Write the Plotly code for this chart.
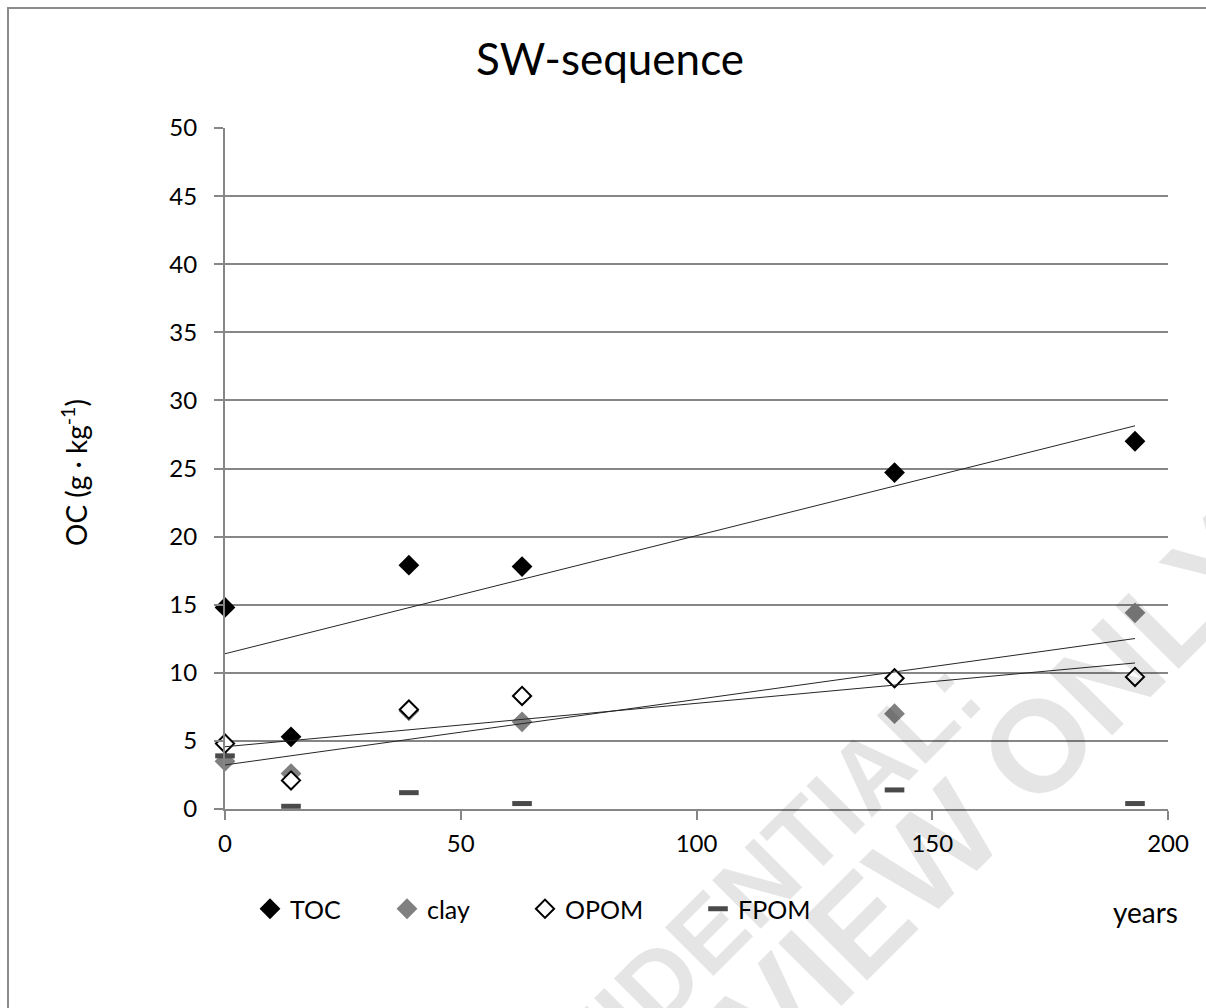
import numpy as np
import plotly.graph_objects as go

# Organic carbon along the SW chronosequence (site age in years)
years = [0, 14, 39, 63, 142, 193]
toc = [14.8, 5.3, 17.9, 17.8, 24.7, 27.0]
clay = [3.5, 2.6, 7.2, 6.4, 7.0, 14.4]
opom = [4.8, 2.1, 7.3, 8.3, 9.6, 9.7]
fpom = [3.9, 0.2, 1.2, 0.4, 1.4, 0.4]

x_ticks = [0, 50, 100, 150, 200]
y_ticks = list(range(0, 51, 5))

W, H = 1206, 1008
PL, PR, PT, PB = 225, 1168, 128, 809  # plot area edges in pixels

FONT = "Lato"
GRID = "#868686"


def fx(p):
    """pixel column -> paper x"""
    return (p - PL) / (PR - PL)


def fy(p):
    """pixel row -> paper y"""
    return (PB - p) / (PB - PT)


fig = go.Figure()

series = [
    ("TOC", toc, dict(symbol="diamond", size=16, color="#000000",
                      line=dict(width=0)), "legend"),
    ("clay", clay, dict(symbol="diamond", size=16, color="#808080",
                        line=dict(width=0)), "legend2"),
    ("OPOM", opom, dict(symbol="diamond", size=14, color="#ffffff",
                        line=dict(width=2, color="#000000")), "legend3"),
    ("FPOM", fpom, dict(symbol="line-ew", size=14,
                        line=dict(width=5, color="#4a4a4a")), "legend4"),
]

for name, vals, marker, lg in series:
    fig.add_trace(go.Scatter(
        x=years, y=vals, mode="markers", name=name, marker=marker,
        cliponaxis=False, legend=lg,
    ))

# linear trend lines for TOC, clay and OPOM
xs = np.array(years, dtype=float)
for vals in (toc, clay, opom):
    k, b = np.polyfit(xs, np.array(vals, dtype=float), 1)
    xe = np.array([xs.min(), xs.max()])
    fig.add_trace(go.Scatter(
        x=xe, y=k * xe + b, mode="lines", showlegend=False,
        line=dict(color="#262626", width=1), hoverinfo="skip",
    ))

legend_common = dict(
    orientation="h", xanchor="left", yanchor="middle", y=fy(909),
    font=dict(family=FONT, size=25, color="#000000"),
    bgcolor="rgba(0,0,0,0)", borderwidth=0, itemwidth=30,
)

fig.update_layout(
    width=W, height=H,
    margin=dict(l=PL, r=W - PR, t=PT, b=H - PB, pad=0),
    paper_bgcolor="#ffffff", plot_bgcolor="#ffffff",
    font=dict(family=FONT, color="#000000"),
    title=dict(text="SW-sequence", x=610 / W, y=1 - 60 / H,
               xref="container", yref="container",
               xanchor="center", yanchor="middle",
               font=dict(family=FONT, size=44, color="#000000")),
    xaxis=dict(range=[0, 200], tickvals=x_ticks, showgrid=False,
               showline=True, linecolor=GRID, linewidth=2,
               ticks="outside", ticklen=9, tickwidth=2, tickcolor=GRID,
               tickfont=dict(family=FONT, size=24, color="#000000"),
               ticklabelstandoff=3, zeroline=False),
    yaxis=dict(range=[0, 50], tickvals=y_ticks, showgrid=True,
               gridcolor=GRID, gridwidth=2,
               showline=True, linecolor=GRID, linewidth=2,
               ticks="outside", ticklen=9, tickwidth=2, tickcolor=GRID,
               tickfont=dict(family=FONT, size=24, color="#000000"),
               ticklabelstandoff=12, zeroline=False),
    legend=dict(legend_common, x=fx(250)),
    legend2=dict(legend_common, x=fx(387)),
    legend3=dict(legend_common, x=fx(525)),
    legend4=dict(legend_common, x=fx(698)),
    showlegend=True,
)

# outer chart frame: a bordered box whose right and bottom edges run off the page
fig.add_annotation(text=" ", xref="paper", yref="paper",
                   x=fx(7), y=fy(6.5), xanchor="left", yanchor="top",
                   width=W + 120, height=H + 120, showarrow=False,
                   bordercolor="#8c8c8c", borderwidth=2, borderpad=0,
                   bgcolor="rgba(0,0,0,0)")

# axis titles
fig.add_annotation(text="OC (g · kg<sup>-1</sup>)", xref="paper", yref="paper",
                   x=fx(75), y=fy(473), textangle=-90, showarrow=False,
                   xanchor="center", yanchor="middle",
                   font=dict(family=FONT, size=28, color="#000000"))
fig.add_annotation(text="years", xref="paper", yref="paper",
                   x=fx(1145), y=fy(912), showarrow=False,
                   xanchor="center", yanchor="middle",
                   font=dict(family=FONT, size=28, color="#000000"))

# review watermark
wm_font = dict(family="Liberation Sans", size=100, color="rgba(0,0,0,0.10)")
fig.add_annotation(text="<b>CONFIDENTIAL:</b>", xref="paper", yref="paper",
                   x=fx(688), y=fy(952), textangle=-45, showarrow=False,
                   xanchor="center", yanchor="middle", font=wm_font)
fig.add_annotation(text="<b>REVIEW ONLY</b>", xref="paper", yref="paper",
                   x=fx(932), y=fy(852), textangle=-45, showarrow=False,
                   xanchor="center", yanchor="middle",
                   font=dict(wm_font, size=130))

# keep the page from scrolling when the watermark runs past the edges
fig.write_html(
    "out.html",
    post_script="document.documentElement.style.overflow='hidden';"
                "document.body.style.overflow='hidden';",
)
